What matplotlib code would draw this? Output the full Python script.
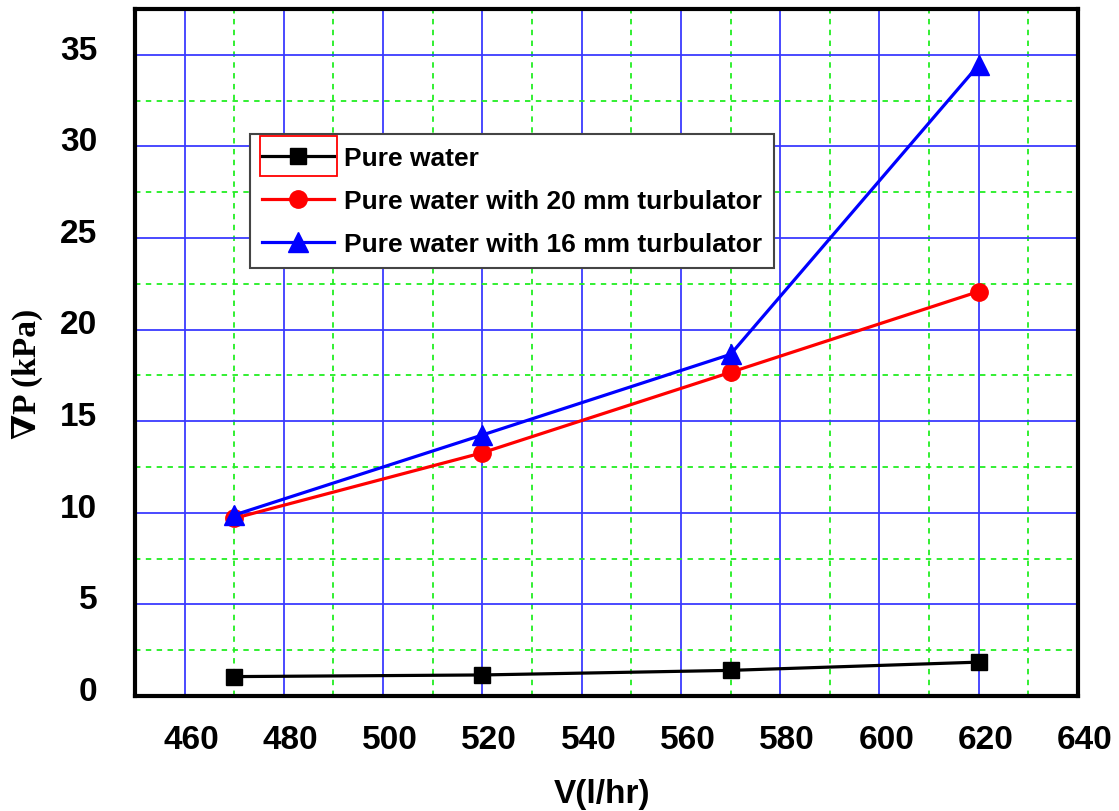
import matplotlib.pyplot as plt
from matplotlib.patches import Rectangle
from matplotlib.transforms import ScaledTranslation

flow = [470, 520, 570, 620]
pure_water = [1.06, 1.15, 1.40, 1.85]
turb_20mm = [9.70, 13.28, 17.67, 22.08]
turb_16mm = [9.88, 14.25, 18.65, 34.45]
labels = ["Pure water", "Pure water with 20 mm turbulator", "Pure water with 16 mm turbulator"]
xticks = [460, 480, 500, 520, 540, 560, 580, 600, 620, 640]
yticks = [0, 5, 10, 15, 20, 25, 30, 35]

plt.rcParams['font.family'] = ['Liberation Sans', 'DejaVu Sans']
plt.rcParams['font.weight'] = 'bold'

fig = plt.figure(figsize=(11.19, 8.12), dpi=100)
ax = fig.add_axes([0.1206, 0.1416, 0.8427, 0.846])

ax.plot(flow, pure_water, '-s', color='black', lw=2.3, ms=12, label=labels[0], zorder=5)
ax.plot(flow, turb_20mm, '-o', color='red', lw=2.3, ms=12.5, label=labels[1], zorder=5)
ax.plot(flow, turb_16mm, '-^', color='blue', lw=2.3, ms=14, label=labels[2], zorder=6)

ax.set_xlim(450, 640)
ax.set_ylim(0, 37.4)
ax.set_xticks(xticks)
ax.set_yticks(yticks)
ax.set_xticks([x + 10 for x in xticks[:-1]] + [450], minor=True)
ax.set_yticks([y + 2.5 for y in yticks], minor=True)

ax.grid(which='major', color='#3a3aff', lw=1.3, ls='-')
ax.grid(which='minor', color='#22ee22', lw=1.3, ls=(0, (3, 3)))
ax.set_axisbelow(True)

ax.tick_params(which='both', length=0)
ax.tick_params(axis='y', labelsize=24, pad=27)
ax.tick_params(axis='x', labelsize=24, pad=20)
for s in ax.spines.values():
    s.set_linewidth(3)
    s.set_color('black')

# labels in the original sit a bit off the grid lines
for lab in ax.get_yticklabels():
    lab.set_transform(lab.get_transform() + ScaledTranslation(0, 6 / 72, fig.dpi_scale_trans))
for lab in ax.get_xticklabels():
    lab.set_transform(lab.get_transform() + ScaledTranslation(5 / 72, 0, fig.dpi_scale_trans))

ax.set_xlabel('V(l/hr)', fontsize=24, fontweight='bold')
ax.xaxis.set_label_coords(0.495, -0.12)
ax.set_ylabel('∇P (kPa)', fontsize=24, fontweight='bold',
              family=['Liberation Serif', 'DejaVu Serif'])
ax.yaxis.set_label_coords(-0.098, 0.47)

leg = ax.legend(loc='upper left', bbox_to_anchor=(0.122, 0.818), borderaxespad=0,
                fancybox=False, edgecolor='#444444', framealpha=1,
                prop={'size': 19, 'weight': 'bold'}, handlelength=2.75,
                labelspacing=0.72, borderpad=0.45, handletextpad=0.35)
leg.get_frame().set_linewidth(1.5)

# red selection box around the first legend handle
fig.canvas.draw()
bb = leg.legend_handles[0].get_window_extent(fig.canvas.get_renderer())
yc = (bb.y0 + bb.y1) / 2
fig.patches.append(Rectangle((bb.x0 + 6, yc - 20), bb.width - 12, 40,
                             transform=None, fill=False, ec='red', lw=1.3, zorder=10))

fig.savefig('out.png', dpi=100)
